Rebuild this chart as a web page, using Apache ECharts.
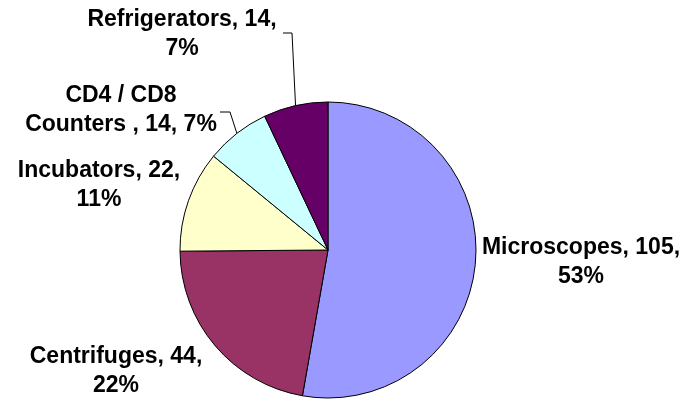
<!DOCTYPE html>
<html>
<head>
<meta charset="utf-8">
<script src="https://cdn.jsdelivr.net/npm/echarts@6/dist/echarts.min.js"></script>
<style>
html,body{margin:0;padding:0;background:#fff;}
#c{width:683px;height:401px;}
</style>
</head>
<body>
<div id="c"></div>
<script>
// ---- data ----
const categories = ['Microscopes', 'Centrifuges', 'Incubators', 'CD4 / CD8\nCounters ', 'Refrigerators'];
const values = [105, 44, 22, 14, 14];
const colors = ['#9999FF', '#993366', '#FFFFCC', '#CCFFFF', '#660066'];

// ---- label layout (positions of label text blocks, not marks) ----
const labelPos = [[581, 262], [116, 371], [99, 185], [121, 110], [182, 34]];
const leaderTail = [null, null, null, [[230, 112], [220, 112]], [[292, 33], [283, 33]]];

const chart = echarts.init(document.getElementById('c'), null, {renderer: 'canvas'});
const data = categories.map((n, i) => ({
  name: n,
  value: values[i],
  itemStyle: {color: colors[i]},
  labelLine: {show: !!leaderTail[i]}
}));

chart.setOption({
  backgroundColor: '#ffffff',
  animation: false,
  series: [{
    type: 'pie',
    center: [328, 250],
    radius: 148,
    startAngle: 90,
    clockwise: true,
    percentPrecision: 0,
    avoidLabelOverlap: false,
    itemStyle: {borderColor: '#000', borderWidth: 1},
    emphasis: {disabled: true},
    label: {
      show: true,
      position: 'outside',
      color: '#000',
      fontFamily: 'Arial, "Liberation Sans", sans-serif',
      fontWeight: 'bold',
      fontSize: 23,
      lineHeight: 29,
      align: 'center',
      formatter: function (p) {
        if (p.name.indexOf('\n') >= 0) return p.name + ', ' + p.value + ', ' + p.percent + '%';
        return p.name + ', ' + p.value + ',\n' + p.percent + '%';
      }
    },
    labelLine: {show: true, lineStyle: {color: '#000', width: 1}, length: 10, length2: 10},
    labelLayout: function (params) {
      const i = params.dataIndex;
      const res = {x: labelPos[i][0], y: labelPos[i][1], align: 'center', verticalAlign: 'middle'};
      if (leaderTail[i] && params.labelLinePoints) {
        res.labelLinePoints = [params.labelLinePoints[0], leaderTail[i][0], leaderTail[i][1]];
      }
      return res;
    },
    data: data
  }]
});
</script>
</body>
</html>
